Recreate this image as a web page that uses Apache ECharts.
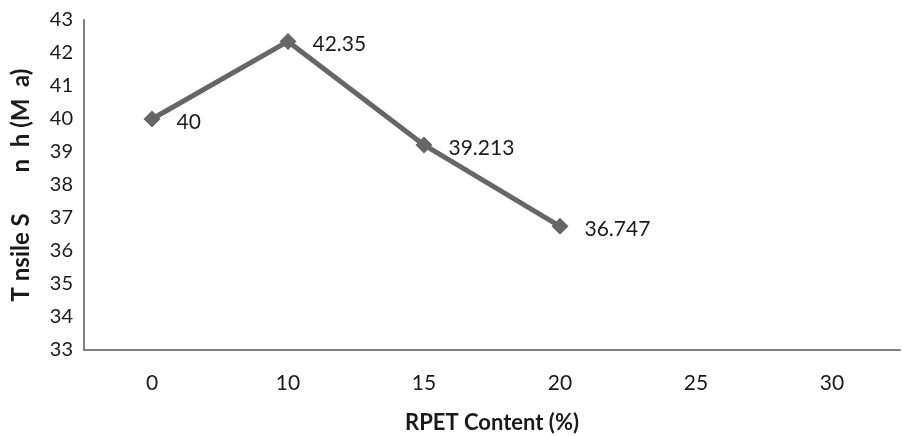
<!DOCTYPE html>
<html><head><meta charset="utf-8">
<script src="https://cdn.jsdelivr.net/npm/echarts@6/dist/echarts.min.js"></script>
<style>html,body{margin:0;padding:0;background:#fff}#c{width:903px;height:436px}</style>
</head><body><div id="c"></div>
<script>
const categories = ['0','10','15','20','25','30'];
const values = [40, 42.35, 39.213, 36.747];
const labels = ['40','42.35','39.213','36.747'];
const yMin = 33, yMax = 43, yStep = 1;
const xTitle = 'RPET Content (%)';
const yTitle = 'T nsile S       n  h (M  a)';

const chart = echarts.init(document.getElementById('c'));
chart.setOption({
  animation: false,
  grid: {left: 84, right: 3, top: 20, bottom: 86, containLabel: false, outerBoundsMode: 'none'},
  xAxis: {
    type: 'category', data: categories, boundaryGap: true,
    axisLine: {lineStyle: {color: '#808080', width: 2}},
    axisTick: {show: false},
    axisLabel: {color: '#1a1a1a', fontFamily: 'Lato', fontSize: 21, margin: 23},
    name: xTitle, nameLocation: 'middle', nameGap: 62,
    nameTextStyle: {color: '#1a1a1a', fontFamily: 'Lato', fontWeight: 'bold', fontSize: 22}
  },
  yAxis: {
    type: 'value', min: yMin, max: yMax, interval: yStep,
    axisLine: {show: true, lineStyle: {color: '#808080', width: 2}},
    axisTick: {show: false},
    splitLine: {show: false},
    axisLabel: {color: '#1a1a1a', fontFamily: 'Lato', fontSize: 20, margin: 11},
    name: yTitle, nameLocation: 'middle', nameGap: 51, nameRotate: 90,
    nameTextStyle: {color: '#1a1a1a', fontFamily: 'Lato', fontWeight: 'bold', fontSize: 24}
  },
  series: [{
    type: 'line',
    data: values,
    symbol: 'diamond', symbolSize: 17,
    itemStyle: {color: '#666666'},
    lineStyle: {color: '#666666', width: 5},
    label: {
      show: true, position: 'right', distance: 16, offset: [0, 3],
      color: '#1a1a1a', fontFamily: 'Lato', fontSize: 21,
      formatter: p => labels[p.dataIndex]
    }
  }]
});
</script></body></html>
